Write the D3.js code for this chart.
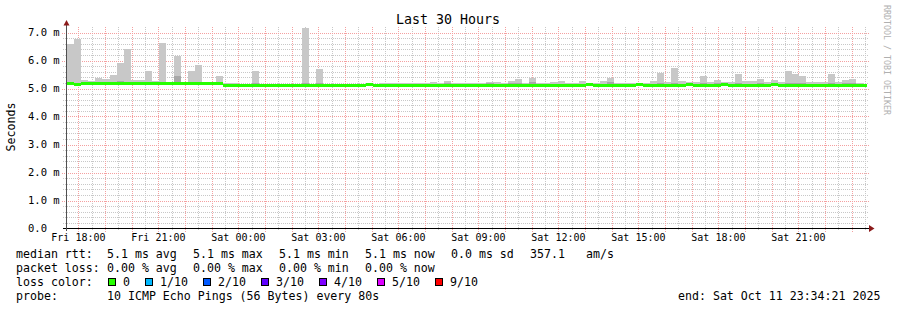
<!DOCTYPE html>
<html>
<head>
<meta charset="utf-8">
<script src="https://cdn.jsdelivr.net/npm/d3@7"></script>
<style>
  body { margin: 0; background: #fff; }
  text { font-family: "DejaVu Sans Mono", monospace; fill: #000; }
</style>
</head>
<body>
<div id="chart"></div>
<script>
// Time window of the graph (local time)
const startTime = new Date(2025, 9, 10, 17, 34, 21);
const endTime = new Date(2025, 9, 11, 23, 34, 21);
// consolidated columns: 16 minutes each, first one starts before the window
const firstBin = new Date(2025, 9, 10, 17, 34, 6);
const binMinutes = 16;

// top of the smoke (slowest ping) per column, ms
const smokeTop = [
  6.59, 6.78, 5.30, 5.26, 5.37, 5.33, 5.49, 5.92, 6.42, 5.30,
  5.30, 5.62, 5.26, 6.63, 5.22, 6.16, 5.22, 5.62, 5.84, 5.23,
  5.19, 5.45, 5.19, 5.19, 5.16, 5.16, 5.62, 5.16, 5.16, 5.16,
  5.16, 5.16, 5.16, 7.17, 5.16, 5.70, 5.15, 5.15, 5.15, 5.15,
  5.15, 5.15, 5.15, 5.15, 5.18, 5.18, 5.20, 5.18, 5.18, 5.19,
  5.18, 5.23, 5.19, 5.27, 5.19, 5.19, 5.19, 5.20, 5.20, 5.23,
  5.22, 5.19, 5.27, 5.35, 5.20, 5.39, 5.20, 5.20, 5.22, 5.27,
  5.20, 5.18, 5.27, 5.20, 5.20, 5.27, 5.39, 5.18, 5.18, 5.20,
  5.20, 5.20, 5.27, 5.56, 5.23, 5.74, 5.27, 5.22, 5.22, 5.45,
  5.22, 5.31, 5.22, 5.22, 5.52, 5.27, 5.27, 5.35, 5.22, 5.30,
  5.22, 5.62, 5.52, 5.45, 5.22, 5.22, 5.22, 5.52, 5.22, 5.30,
  5.35, 5.19, 5.17
];
// darker (denser) part of the smoke, 0 = none
const smokeDense = [
  5.20, 5.20, 5.20, 5.20, 5.20, 5.22, 5.20, 5.28, 5.24, 5.20,
  5.20, 5.25, 5.20, 5.22, 5.20, 5.45, 5.20, 5.22, 5.21, 5.20,
  0, 0, 0, 0, 0, 0, 5.18, 0, 0, 0,
  0, 0, 0, 5.18, 0, 5.18, 0, 0, 0, 0,
  0, 0, 0, 0, 0, 0, 0, 0, 0, 0,
  0, 0, 0, 5.20, 0, 0, 0, 0, 0, 5.18,
  0, 0, 5.18, 5.20, 0, 5.22, 0, 0, 0, 0,
  0, 0, 0, 0, 0, 0, 5.22, 0, 0, 0,
  0, 0, 0, 5.20, 0, 5.20, 0, 0, 0, 5.18,
  0, 5.18, 0, 0, 5.18, 0, 0, 5.18, 0, 0,
  0, 5.18, 5.20, 5.18, 0, 0, 0, 5.18, 0, 5.18,
  5.20, 0, 0
];
// median rtt per column, ms
const median = [
  5.15, 5.13, 5.15, 5.15, 5.15, 5.15, 5.15, 5.15, 5.15, 5.15,
  5.15, 5.15, 5.15, 5.15, 5.15, 5.15, 5.15, 5.15, 5.15, 5.15,
  5.15, 5.15, 5.10, 5.10, 5.10, 5.10, 5.10, 5.10, 5.10, 5.10,
  5.10, 5.10, 5.10, 5.10, 5.10, 5.10, 5.10, 5.10, 5.10, 5.10,
  5.10, 5.10, 5.13, 5.10, 5.10, 5.10, 5.10, 5.10, 5.10, 5.10,
  5.10, 5.10, 5.10, 5.10, 5.10, 5.10, 5.10, 5.10, 5.10, 5.10,
  5.10, 5.10, 5.10, 5.10, 5.10, 5.10, 5.10, 5.10, 5.10, 5.10,
  5.10, 5.10, 5.10, 5.13, 5.10, 5.10, 5.10, 5.10, 5.10, 5.10,
  5.13, 5.10, 5.10, 5.10, 5.10, 5.10, 5.10, 5.13, 5.10, 5.10,
  5.10, 5.10, 5.13, 5.10, 5.10, 5.10, 5.10, 5.10, 5.10, 5.13,
  5.10, 5.10, 5.10, 5.10, 5.10, 5.10, 5.10, 5.10, 5.10, 5.10,
  5.10, 5.10, 5.10
];

const yTicks = [0, 1, 2, 3, 4, 5, 6, 7];
const yTickLabels = ["0.0", "1.0 m", "2.0 m", "3.0 m", "4.0 m", "5.0 m", "6.0 m", "7.0 m"];

const medianStats = ["5.1 ms avg", "5.1 ms max", "5.1 ms min", "5.1 ms now", "0.0 ms sd", "357.1", "am/s"];
const lossStats = ["0.00 % avg", "0.00 % max", "0.00 % min", "0.00 % now"];
const lossLabels = ["0", "1/10", "2/10", "3/10", "4/10", "5/10", "9/10"];
const lossColors = ["#26ff00", "#00b8ff", "#0059ff", "#5e00ff", "#7e00ff", "#dd00ff", "#ff0000"];
const probeText = "10 ICMP Echo Pings (56 Bytes) every 80s";
const endText = "end: Sat Oct 11 23:34:21 2025";

const W = 897, H = 310;
const svg = d3.select("#chart").append("svg")
  .attr("width", W).attr("height", H);

const x = d3.scaleTime().domain([startTime, endTime]).range([67, 867]);
const y = d3.scaleLinear().domain([0, 7.2]).range([228.5, 26.9]);
const px = v => Math.round(v) + 0.5;

const bins = smokeTop.map((v, i) => {
  const t0 = d3.timeMinute.offset(firstBin, i * binMinutes);
  const t1 = d3.timeMinute.offset(firstBin, (i + 1) * binMinutes);
  return {t0, t1, top: v, dense: smokeDense[i], med: median[i]};
});

// title
svg.append("text")
  .attr("x", 448).attr("y", 24)
  .attr("text-anchor", "middle")
  .style("font-size", "13.3px")
  .text("Last 30 Hours");

// watermark
svg.append("text")
  .attr("transform", "translate(884,5) rotate(90)")
  .style("font-size", "8.3px")
  .style("fill", "#b0b0b0")
  .text("RRDTOOL / TOBI OETIKER");

// y axis title
svg.append("text")
  .attr("transform", "translate(15,127) rotate(-90)")
  .attr("text-anchor", "middle")
  .style("font-size", "11.6px")
  .text("Seconds");

// grid
const grid = svg.append("g");
const minorY = d3.range(0, 36).map(d => d * 0.2).filter(v => Math.abs(v - Math.round(v)) > 0.01);
const hours = d3.timeHour.range(startTime, endTime);
const halfHours = d3.timeMinute.every(30).range(startTime, endTime).filter(d => d.getMinutes() === 30);

grid.selectAll(".hminor").data(minorY).enter().append("line")
  .attr("x1", 63).attr("x2", 869)
  .attr("y1", d => px(y(d))).attr("y2", d => px(y(d)))
  .attr("stroke", "#c8c8c8").attr("stroke-dasharray", "1,1");
grid.selectAll(".vminor").data(halfHours).enter().append("line")
  .attr("x1", d => px(x(d))).attr("x2", d => px(x(d)))
  .attr("y1", 27).attr("y2", 231)
  .attr("stroke", "#c8c8c8").attr("stroke-dasharray", "1,1");
grid.selectAll(".hmajor").data(yTicks.slice(1)).enter().append("line")
  .attr("x1", 62).attr("x2", 869)
  .attr("y1", d => px(y(d))).attr("y2", d => px(y(d)))
  .attr("stroke", "#f4a0a0").attr("stroke-dasharray", "1,1");
grid.selectAll(".vmajor").data(hours).enter().append("line")
  .attr("x1", d => px(x(d))).attr("x2", d => px(x(d)))
  .attr("y1", 27).attr("y2", 232)
  .attr("stroke", "#f4a0a0").attr("stroke-dasharray", "1,1");

// smoke
const plot = svg.append("g");
svg.append("clipPath").attr("id", "clip")
  .append("rect").attr("x", 67).attr("y", 20).attr("width", 800).attr("height", 210);
plot.attr("clip-path", "url(#clip)");

plot.selectAll(".smoke").data(bins).enter().append("rect")
  .attr("x", d => Math.round(x(d.t0)))
  .attr("width", d => Math.round(x(d.t1)) - Math.round(x(d.t0)))
  .attr("y", d => Math.round(y(d.top)))
  .attr("height", d => Math.max(0, Math.round(y(d.med)) - Math.round(y(d.top))))
  .attr("fill", "#c8c8c8");
plot.selectAll(".dense").data(bins.filter(d => d.dense > 0)).enter().append("rect")
  .attr("x", d => Math.round(x(d.t0)))
  .attr("width", d => Math.round(x(d.t1)) - Math.round(x(d.t0)))
  .attr("y", d => Math.round(y(d.dense)))
  .attr("height", d => Math.max(0, Math.round(y(d.med)) - Math.round(y(d.dense))))
  .attr("fill", "#a8a8a8");

// median, coloured by loss (0 loss everywhere)
plot.selectAll(".median").data(bins).enter().append("rect")
  .attr("x", d => Math.round(x(d.t0)))
  .attr("width", d => Math.round(x(d.t1)) - Math.round(x(d.t0)))
  .attr("y", d => Math.round(y(d.med)) - 2)
  .attr("height", 3)
  .attr("fill", lossColors[0]);

// axes
svg.append("line")
  .attr("x1", 63).attr("x2", 870).attr("y1", 228.5).attr("y2", 228.5)
  .attr("stroke", "#000");
svg.append("line")
  .attr("x1", 66.5).attr("x2", 66.5).attr("y1", 24).attr("y2", 231)
  .attr("stroke", "#505050");
svg.append("path")
  .attr("d", "M66.5,20 L63.5,25.5 L69.5,25.5 Z")
  .attr("fill", "#8b1a1a");
svg.append("path")
  .attr("d", "M869,225 L869,232 L874.5,228.5 Z")
  .attr("fill", "#8b1a1a");

// y tick labels
svg.selectAll(".ylab").data(yTicks).enter().append("text")
  .attr("x", 28).attr("y", d => y(d) + 3.5)
  .style("font-size", "10.5px")
  .text((d, i) => yTickLabels[i]);

// x tick labels every 3 hours
const labelTimes = d3.timeHour.every(3).range(startTime, endTime);
const fmt = d3.timeFormat("%a %H:%M");
svg.selectAll(".xlab").data(labelTimes).enter().append("text")
  .attr("x", d => x(d)).attr("y", 241)
  .attr("text-anchor", "middle")
  .style("font-size", "10px")
  .text(d => fmt(d));

// legend
const leg = svg.append("g").style("font-size", "11.6px");
const statX = [107, 193, 279, 365, 451, 530, 586];
leg.append("text").attr("x", 16).attr("y", 258).text("median rtt:");
leg.selectAll(".ms").data(medianStats).enter().append("text")
  .attr("x", (d, i) => statX[i]).attr("y", 258).text(d => d);
leg.append("text").attr("x", 16).attr("y", 272).text("packet loss:");
leg.selectAll(".ls").data(lossStats).enter().append("text")
  .attr("x", (d, i) => statX[i]).attr("y", 272).text(d => d);
leg.append("text").attr("x", 16).attr("y", 286).text("loss color:");
const boxX = [108.5, 145.5, 203.5, 261.5, 319.5, 377.5, 435.5];
leg.selectAll(".box").data(lossColors).enter().append("rect")
  .attr("x", (d, i) => boxX[i]).attr("y", 278.5)
  .attr("width", 7).attr("height", 7)
  .attr("fill", d => d).attr("stroke", "#000");
leg.selectAll(".lc").data(lossLabels).enter().append("text")
  .attr("x", (d, i) => boxX[i] + 14.5).attr("y", 286).text(d => d);
leg.append("text").attr("x", 16).attr("y", 300).text("probe:");
leg.append("text").attr("x", 107).attr("y", 300).text(probeText);
leg.append("text").attr("x", 678).attr("y", 300).text(endText);
</script>
</body>
</html>
